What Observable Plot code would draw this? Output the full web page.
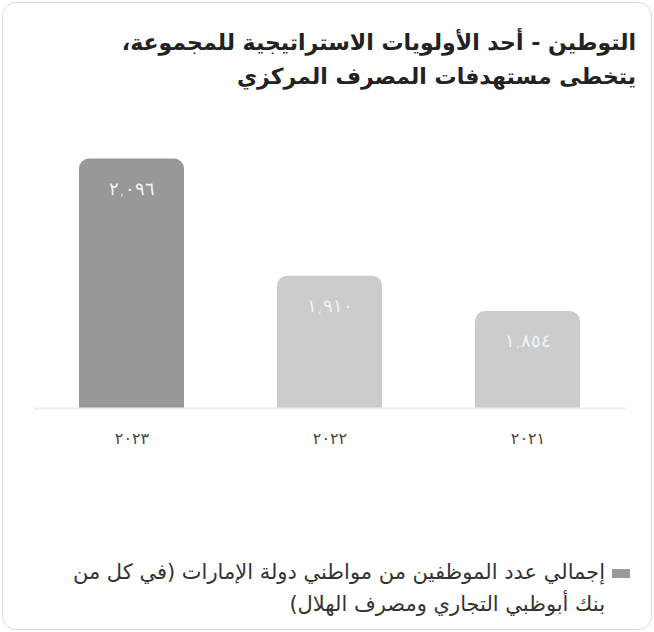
<!DOCTYPE html>
<html lang="ar">
<head>
<meta charset="utf-8">
<script src="https://cdn.jsdelivr.net/npm/d3@7"></script>
<script src="https://cdn.jsdelivr.net/npm/@observablehq/plot@0.6"></script>
<style>
  html, body { margin: 0; padding: 0; background: #fff; }
  body { width: 654px; height: 632px; position: relative; overflow: hidden; font-family: "DejaVu Sans", sans-serif; }
  #card { position: absolute; left: 2px; top: 2px; width: 648px; height: 626px; border: 1px solid #d9d9d9; border-radius: 14px; }
  #title { position: absolute; right: 18px; top: 26px; width: 600px; direction: rtl; text-align: right; font-size: 22px; font-weight: bold; line-height: 34px; color: #222; margin: 0; }
  #chart { position: absolute; left: 0; top: 130px; }
  #legend { position: absolute; right: 24px; top: 556px; width: 600px; direction: rtl; text-align: right; font-size: 21px; line-height: 32px; color: #333; }
  #legend .sw { display: inline-block; width: 18px; height: 9px; background: #999a99; margin-left: 7px; vertical-align: middle; }
</style>
</head>
<body>
<div id="card"></div>
<h2 id="title">التوطين - أحد الأولويات الاستراتيجية للمجموعة،<br>يتخطى مستهدفات المصرف المركزي</h2>
<div id="chart"></div>
<div id="legend"><span class="sw"></span>إجمالي عدد الموظفين من مواطني دولة الإمارات (في كل من<br><span style="margin-right:25px">بنك أبوظبي التجاري ومصرف الهلال)</span></div>
<script>
const years = ["2023", "2022", "2021"];
const values = [2096, 1910, 1854];
const colors = ["#979897", "#cbcccd", "#cbcccd"];

const arDigits = s => String(s).replace(/[0-9]/g, d => "٠١٢٣٤٥٦٧٨٩"[+d]);
const fmt = v => arDigits(d3.format(",")(v));

const data = years.map((y, i) => ({year: y, value: values[i], color: colors[i]}));

const plot = Plot.plot({
  width: 654,
  height: 330,
  marginLeft: 34,
  marginRight: 28,
  marginTop: 26,
  marginBottom: 52,
  style: {fontFamily: "DejaVu Sans, sans-serif", background: "transparent"},
  x: {domain: years, range: [78, 580], paddingInner: 0.47, paddingOuter: 0},
  y: {domain: [1700, 2100], axis: null},
  marks: [
    Plot.barY(data, {x: "year", y1: 1700, y2: "value", fill: "color", ry1: 10}),
    Plot.ruleY([1700], {stroke: "#eeeeee", strokeWidth: 2}),
    Plot.text(data, {x: "year", y: "value", text: d => fmt(d.value), dy: 30, fill: "#f4f4f4", fontSize: 18, fontWeight: 300}),
    Plot.axisX({tickSize: 0, tickPadding: 24, fontSize: 16, color: "#444", tickFormat: d => arDigits(d), label: null})
  ]
});
document.getElementById("chart").appendChild(plot);
</script>
</body>
</html>
